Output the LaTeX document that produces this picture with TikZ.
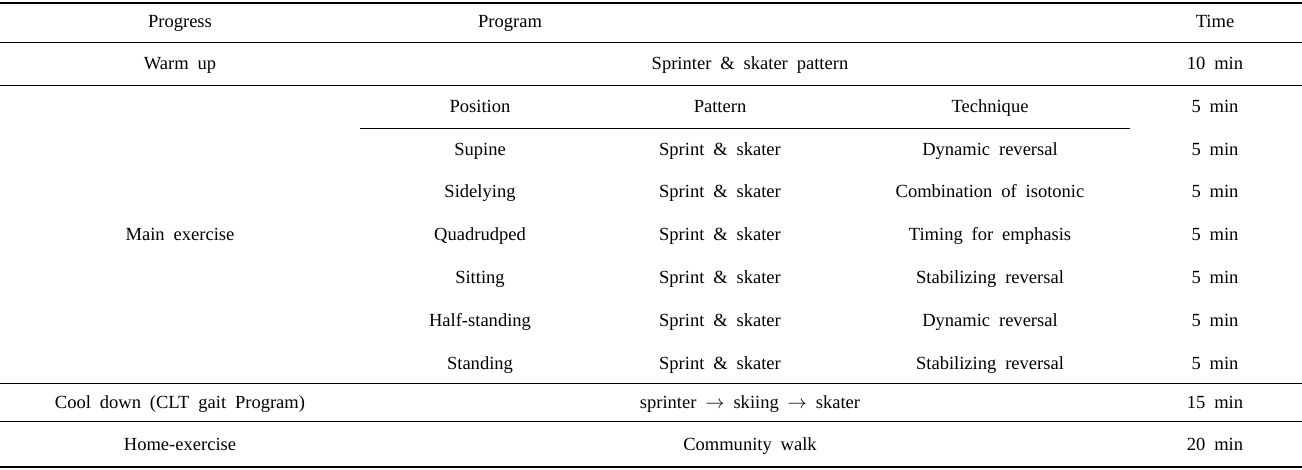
\documentclass[tikz,border=0pt]{standalone}
\usepackage{fontspec}
\setmainfont{Liberation Serif}
\begin{document}
\begin{tikzpicture}[x=0.75pt,y=-0.75pt,
  cell/.style={font={\fontsize{13.9}{16}\selectfont\spaceskip=0.48em plus 0.1em\relax},inner sep=0pt,anchor=base},
  thick rule/.style={line width=1.6pt},
  thin rule/.style={line width=0.7pt}]
\useasboundingbox (0,0) rectangle (1302,470);
% rules
\draw[thick rule] (0,3) -- (1302,3);
\draw[thin rule] (0,42) -- (1302,42);
\draw[thin rule] (0,85) -- (1302,85);
\draw[thin rule] (360,128) -- (1130,128);
\draw[thin rule] (0,383) -- (1302,383);
\draw[thin rule] (0,421) -- (1302,421);
\draw[thick rule] (0,467) -- (1302,467);
% header
\node[cell] (h1) at (180,28) {Progress};
\node[cell] (h2) at (510,28) {Program};
\node[cell] (h3) at (1215,28) {Time};
% warm up
\node[cell] (w1) at (180,70) {Warm up};
\node[cell] (w2) at (750,70) {Sprinter \& skater pattern};
\node[cell] (w3) at (1215,70) {10 min};
% main
\node[cell] (m0) at (180,241) {Main exercise};
\foreach \y/\a/\b/\c [count=\i] in {
  113/Position/Pattern/Technique,
  156/Supine/Sprint \& skater/Dynamic reversal,
  198/Sidelying/Sprint \& skater/Combination of isotonic,
  241/Quadrudped/Sprint \& skater/Timing for emphasis,
  283/Sitting/Sprint \& skater/Stabilizing reversal,
  326/Half-standing/Sprint \& skater/Dynamic reversal,
  369/Standing/Sprint \& skater/Stabilizing reversal}{
  \node[cell] (pa\i) at (480,\y) {\a};
  \node[cell] (pb\i) at (720,\y) {\b};
  \node[cell] (pc\i) at (990,\y) {\c};
  \node[cell] (pt\i) at (1215,\y) {5 min};
}
% cool down
\node[cell] (c1) at (180,408) {Cool down (CLT gait Program)};
\node[cell] (c2) at (750,408) {sprinter $\rightarrow$ skiing $\rightarrow$ skater};
\node[cell] (c3) at (1215,408) {15 min};
% home
\node[cell] (e1) at (180,450) {Home-exercise};
\node[cell] (e2) at (750,450) {Community walk};
\node[cell] (e3) at (1215,450) {20 min};
\end{tikzpicture}
\end{document}
